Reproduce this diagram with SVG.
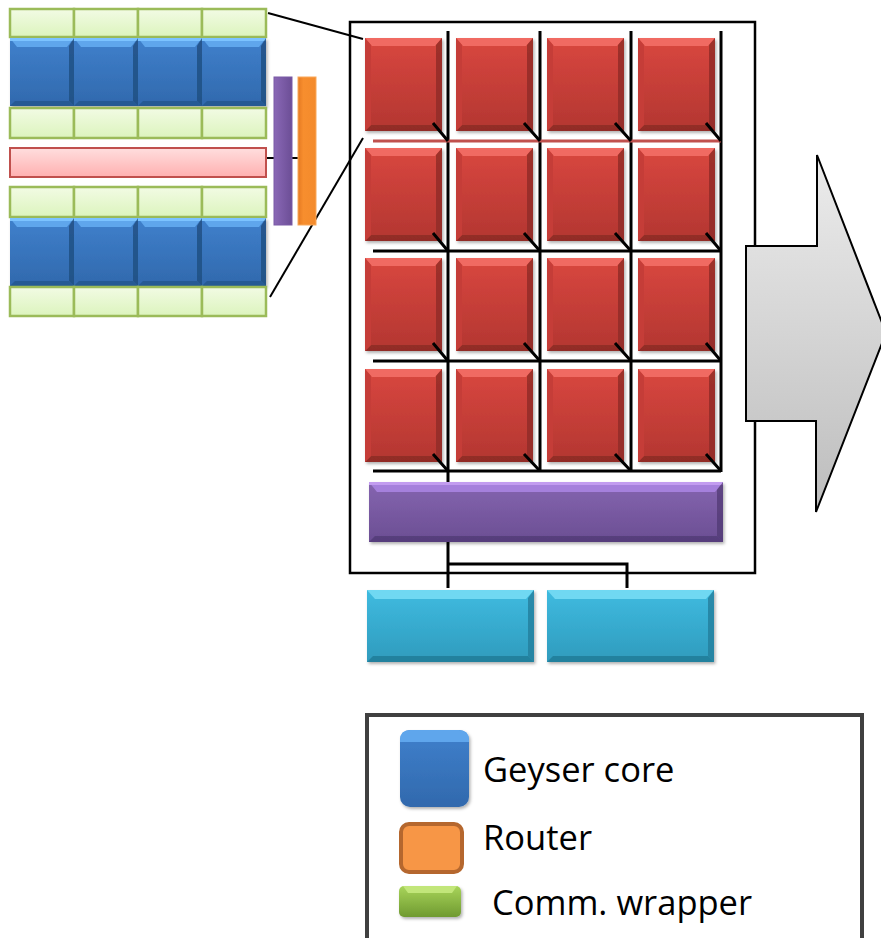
<svg xmlns="http://www.w3.org/2000/svg" xmlns:xlink="http://www.w3.org/1999/xlink" width="881" height="938" viewBox="0 0 881 938">
<style>
.ln{stroke:#000;stroke-width:3;fill:none}
.thin{stroke:#000;stroke-width:2;fill:none}
.grn{fill:url(#gGreen);stroke:#9bbb59;stroke-width:2.5}
.lbl{font-family:"Open Sans","Noto Sans",sans-serif;font-size:34.5px;fill:#000}
</style>
<defs>
<filter id="sh" x="-10%" y="-10%" width="130%" height="130%">
<feDropShadow dx="1.5" dy="2" stdDeviation="1.5" flood-color="#000" flood-opacity="0.3"/>
</filter>
<linearGradient id="gRed" x1="0" y1="0" x2="0" y2="1"><stop offset="0" stop-color="#d9473f"/><stop offset="1" stop-color="#b33631"/></linearGradient>
<linearGradient id="gBlue" x1="0" y1="0" x2="0" y2="1"><stop offset="0" stop-color="#3f80cc"/><stop offset="1" stop-color="#3169ad"/></linearGradient>
<linearGradient id="gGreen" x1="0" y1="0" x2="0" y2="1"><stop offset="0" stop-color="#f2fbe4"/><stop offset="1" stop-color="#dcf4bd"/></linearGradient>
<linearGradient id="gPink" x1="0" y1="0" x2="0" y2="1"><stop offset="0" stop-color="#ffdede"/><stop offset="1" stop-color="#ffb0b0"/></linearGradient>
<linearGradient id="gPurp" x1="0" y1="0" x2="0" y2="1"><stop offset="0" stop-color="#8565b0"/><stop offset="1" stop-color="#6b4e93"/></linearGradient>
<linearGradient id="gPurpV" x1="0" y1="0" x2="1" y2="0"><stop offset="0" stop-color="#8a68b6"/><stop offset="1" stop-color="#6c4e96"/></linearGradient>
<linearGradient id="gOrV" x1="0" y1="0" x2="1" y2="0"><stop offset="0" stop-color="#e57a22"/><stop offset="0.3" stop-color="#f78e2e"/><stop offset="1" stop-color="#f38a2c"/></linearGradient>
<linearGradient id="gCyan" x1="0" y1="0" x2="0" y2="1"><stop offset="0" stop-color="#3fbbe0"/><stop offset="1" stop-color="#2f9bbd"/></linearGradient>
<linearGradient id="gArrow" x1="0" y1="0" x2="0" y2="1"><stop offset="0" stop-color="#ececec"/><stop offset="1" stop-color="#bdbdbd"/></linearGradient>
<linearGradient id="gLGreen" x1="0" y1="0" x2="0" y2="1"><stop offset="0" stop-color="#a8d45a"/><stop offset="1" stop-color="#6f9a30"/></linearGradient>
<g id="redcell">
<rect x="0" y="0" width="77" height="93" fill="url(#gRed)"/>
<polygon points="0,0 77,0 70,8 7,8" fill="#f06a62"/>
<polygon points="77,0 77,93 71,87 71,7" fill="#8f2b27" opacity="0.8"/>
<polygon points="0,93 77,93 71,87 6,87" fill="#8a2a26" opacity="0.8"/>
<polygon points="0,0 6,7 6,87 0,93" fill="#c53e38"/>
</g>
<g id="bluecell">
<rect x="0" y="0" width="64" height="68" fill="url(#gBlue)"/>
<polygon points="0,0 64,0 57,9 7,9" fill="#5ea6ec"/>
<rect x="0" y="0" width="64" height="3" fill="#7cc3ff"/>
<polygon points="64,0 64,68 59,63 59,8" fill="#1f4d80" opacity="0.8"/>
<polygon points="0,68 64,68 59,63 5,63" fill="#24568d" opacity="0.8"/>
</g>
<g id="cyancell">
<rect x="0" y="0" width="167" height="72" fill="url(#gCyan)"/>
<polygon points="0,0 167,0 159,9 8,9" fill="#6fd8f2"/>
<polygon points="167,0 167,72 161,66 161,8" fill="#247e9c" opacity="0.8"/>
<polygon points="0,72 167,72 161,66 6,66" fill="#227a96" opacity="0.8"/>
</g>
</defs>
<rect width="881" height="938" fill="#fff"/>

<g id="connectors">
<line class="thin" x1="268" y1="13" x2="363" y2="39"/>
<line class="thin" x1="270" y1="297" x2="363" y2="138"/>
<line class="thin" x1="266" y1="158" x2="298" y2="158"/>
<path class="ln" d="M448 542 V588 M448 564 H627 V588"/>
</g>

<g id="tile-module">
<g id="wrap-top1"><rect class="grn" x="10" y="9" width="64" height="28"/><rect class="grn" x="74" y="9" width="64" height="28"/><rect class="grn" x="138" y="9" width="64" height="28"/><rect class="grn" x="202" y="9" width="64" height="28"/></g>
<g id="cores-top" filter="url(#sh)"><use href="#bluecell" x="10" y="38"/><use href="#bluecell" x="74" y="38"/><use href="#bluecell" x="138" y="38"/><use href="#bluecell" x="202" y="38"/></g>
<g id="wrap-top2"><rect class="grn" x="10" y="108" width="64" height="30"/><rect class="grn" x="74" y="108" width="64" height="30"/><rect class="grn" x="138" y="108" width="64" height="30"/><rect class="grn" x="202" y="108" width="64" height="30"/></g>
<g id="pink-bar"><rect x="10" y="148" width="256" height="29" fill="url(#gPink)" stroke="#c0504d" stroke-width="2"/></g>
<g id="wrap-bot1"><rect class="grn" x="10" y="187" width="64" height="30"/><rect class="grn" x="74" y="187" width="64" height="30"/><rect class="grn" x="138" y="187" width="64" height="30"/><rect class="grn" x="202" y="187" width="64" height="30"/></g>
<g id="cores-bot" filter="url(#sh)"><use href="#bluecell" x="10" y="218"/><use href="#bluecell" x="74" y="218"/><use href="#bluecell" x="138" y="218"/><use href="#bluecell" x="202" y="218"/></g>
<g id="wrap-bot2"><rect class="grn" x="10" y="287" width="64" height="29"/><rect class="grn" x="74" y="287" width="64" height="29"/><rect class="grn" x="138" y="287" width="64" height="29"/><rect class="grn" x="202" y="287" width="64" height="29"/></g>
<g id="purple-vbar"><rect x="274" y="77" width="18" height="148" fill="url(#gPurpV)" stroke="#7a5aa6" stroke-width="1"/></g>
<g id="orange-vbar"><rect x="298" y="77" width="18" height="148" fill="url(#gOrV)" stroke="#f9a85a" stroke-width="1"/></g>
</g>

<g id="chip">
<rect id="frame" x="350" y="22" width="405" height="551" fill="none" stroke="#000" stroke-width="2.5"/>
<g id="mesh-lines">
<path class="ln" d="M448 31 V482 M540 31 V472 M631 31 V472 M721 31 V472"/>
<line x1="373" y1="141" x2="721" y2="141" stroke="#c0504d" stroke-width="3"/>
<path class="ln" d="M373 251 H721 M373 361 H721 M373 471 H721"/>
</g>
<g id="tiles" filter="url(#sh)">
<use href="#redcell" x="365" y="38"/><use href="#redcell" x="456" y="38"/><use href="#redcell" x="547" y="38"/><use href="#redcell" x="638" y="38"/>
<use href="#redcell" x="365" y="148"/><use href="#redcell" x="456" y="148"/><use href="#redcell" x="547" y="148"/><use href="#redcell" x="638" y="148"/>
<use href="#redcell" x="365" y="258"/><use href="#redcell" x="456" y="258"/><use href="#redcell" x="547" y="258"/><use href="#redcell" x="638" y="258"/>
<use href="#redcell" x="365" y="369"/><use href="#redcell" x="456" y="369"/><use href="#redcell" x="547" y="369"/><use href="#redcell" x="638" y="369"/>
</g>
<g id="tile-links">
<path class="ln" d="M433 123 L448 141 M524 123 L540 141 M615 123 L631 141 M706 123 L721 141
M433 233 L448 251 M524 233 L540 251 M615 233 L631 251 M706 233 L721 251
M433 343 L448 361 M524 343 L540 361 M615 343 L631 361 M706 343 L721 361
M433 454 L448 471 M524 454 L540 471 M615 454 L631 471 M706 454 L721 471"/>
</g>
<g id="purple-bus" filter="url(#sh)">
<rect x="369" y="482" width="354" height="60" fill="url(#gPurp)"/>
<polygon points="369,482 723,482 715,492 377,492" fill="#a580dc"/>
<rect x="369" y="482" width="354" height="3" fill="#c29cf0"/>
<polygon points="723,482 723,542 717,536 717,490" fill="#4f3870" opacity="0.7"/>
<polygon points="369,542 723,542 717,536 375,536" fill="#4f3870" opacity="0.7"/>
</g>
</g>

<g id="mem1" filter="url(#sh)"><use href="#cyancell" x="367" y="590"/></g>
<g id="mem2" filter="url(#sh)"><use href="#cyancell" x="547" y="590"/></g>

<g id="output-arrow">
<polygon points="746,246 817,246 817,155 886,333 816,512 816,421 746,421" fill="url(#gArrow)" stroke="#000" stroke-width="2"/>
</g>

<g id="legend">
<rect x="367" y="715" width="495" height="240" fill="#fff" stroke="#404040" stroke-width="4"/>
<g id="leg-core" filter="url(#sh)">
<rect x="400" y="730" width="69" height="77" rx="10" fill="url(#gBlue)"/>
<path d="M410 730 H459 Q469 730 469 740 V742 H400 V740 Q400 730 410 730 Z" fill="#5ea6ec"/>
</g>
<text class="lbl" x="483" y="782">Geyser core</text>
<g id="leg-router"><rect x="401" y="824" width="61" height="48" rx="8" fill="#f79646" stroke="#b5672e" stroke-width="4"/></g>
<text class="lbl" x="483" y="850">Router</text>
<g id="leg-wrapper" filter="url(#sh)">
<rect x="399" y="886" width="62" height="31" rx="5" fill="url(#gLGreen)"/>
<polygon points="403,886 457,886 452,893 408,893" fill="#c2e67a"/>
</g>
<text class="lbl" x="492" y="915">Comm. wrapper</text>
</g>
</svg>
